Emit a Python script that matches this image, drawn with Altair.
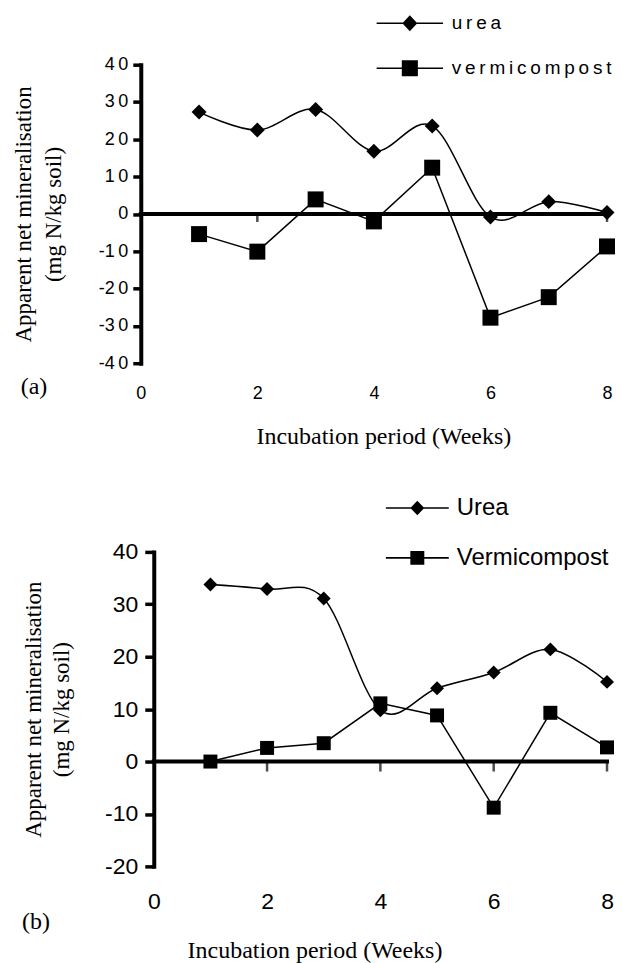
import altair as alt
import pandas as pd

# ---------------- data ----------------
weeks = [1, 2, 3, 4, 5, 6, 7, 8]
urea_a = [27.3, 22.5, 28.0, 16.8, 23.6, -0.8, 3.3, 0.4]
verm_a = [-5.4, -10.1, 3.9, -2.0, 12.4, -27.8, -22.3, -8.7]
urea_b = [33.8, 32.9, 31.1, 9.8, 14.0, 17.0, 21.4, 15.2]
verm_b = [0.0, 2.6, 3.5, 11.1, 8.8, -8.8, 9.3, 2.7]

names_a = ["urea", "vermicompost"]
names_b = ["Urea", "Vermicompost"]
x_ticks = [0, 2, 4, 6, 8]
y_ticks_a = [-40, -30, -20, -10, 0, 10, 20, 30, 40]
y_ticks_b = [-20, -10, 0, 10, 20, 30, 40]
x_title = "Incubation period (Weeks)"
y_title = ["Apparent net mineralisation", "(mg N/kg soil)"]
tags = ["(a)", "(b)"]

SANS = "Liberation Sans"
SERIF = "Liberation Serif"
THIN = "\u2009"

# legend symbols: a thin filled bar (the line) + the filled marker
LEG_A = ["M-4.75,-0.11H4.75V0.11H-4.75ZM-1.07,0L0,-1.15L1.07,0L0,1.15Z",
         "M-4.75,-0.11H4.75V0.11H-4.75ZM-1.15,-1.15H1.15V1.15H-1.15Z"]
LEG_B = ["M-4.5,-0.11H4.5V0.11H-4.5ZM-1,0L0,-1.05L1,0L0,1.05Z",
         "M-4.5,-0.11H4.5V0.11H-4.5ZM-1,-1H1V1H-1Z"]


def panel(urea, verm, names, y_ticks, tag, p):
    xs = alt.Scale(domain=[p["x_start"], x_ticks[-1]], nice=False, zero=False)
    ys = alt.Scale(domain=[y_ticks[0], y_ticks[-1]], nice=False, zero=False)
    x_axis = alt.Axis(
        values=x_ticks, title=x_title, grid=False, domain=False, ticks=False,
        tickSize=0, labelFont=SANS, labelFontSize=p["tick_size"],
        labelPadding=p["xlab_pad"], labelFlush=False, labelOverlap=False,
        labelColor="black", labelExpr="'' + datum.value",
        titleFont=SERIF, titleFontSize=24, titleFontWeight="normal",
        titleColor="black", titleX=p["xtitle_x"], titleY=p["xtitle_y"],
        titleBaseline="middle", titleAlign="center",
    )
    y_axis = alt.Axis(
        values=y_ticks, title=y_title, grid=False, domainColor="black",
        domainWidth=4, domainCap="square", tickColor="black", tickWidth=3.5,
        tickSize=p["tick_len"], labelPadding=p["ylab_pad"],
        labelFont=SANS, labelFontSize=p["tick_size"],
        labelColor="black", labelOverlap=False, labelExpr=p["ylab_expr"],
        titleFont=SERIF, titleFontSize=23, titleFontWeight="normal",
        titleColor="black", titleAngle=270, titleBaseline="top",
        titleAlign="center", titleX=p["ytitle_x"], titleLineHeight=p["t_lh"],
        offset=p["y_offset"],
    )

    def X(f):
        return alt.X(f"{f}:Q", scale=xs, axis=x_axis)

    def Y(f):
        return alt.Y(f"{f}:Q", scale=ys, axis=y_axis)

    urea_df = pd.DataFrame({"week": weeks, "value": urea, "series": names[0]})
    verm_df = pd.DataFrame({"week": weeks, "value": verm, "series": names[1]})
    first_df = pd.concat([urea_df.head(1), verm_df.head(1)], ignore_index=True)
    zero_df = pd.DataFrame({"week": [x_ticks[0]], "week_end": [x_ticks[-1]], "value": [0]})
    tick_df = pd.DataFrame({"week": x_ticks[1:], "value": [0] * (len(x_ticks) - 1)})

    zero = alt.Chart(zero_df).mark_rule(
        color="black", strokeWidth=4, strokeCap="square"
    ).encode(x=X("week"), x2=alt.X2("week_end:Q"), y=Y("value"))

    zticks = alt.Chart(tick_df).mark_tick(
        orient="vertical", color="black", size=p["zt_size"], thickness=2.5,
        yOffset=p["zt_size"] / 2,
    ).encode(x=X("week"), y=Y("value"))

    urea_line = alt.Chart(urea_df).mark_line(
        color="black", strokeWidth=1.5, interpolate="cardinal", tension=0
    ).encode(x=X("week"), y=Y("value"))

    verm_line = alt.Chart(verm_df).mark_line(
        color="black", strokeWidth=1.5
    ).encode(x=X("week"), y=Y("value"))

    urea_pts = alt.Chart(urea_df).mark_point(
        shape="diamond", filled=True, opacity=1, fill="black", size=p["dia_size"]
    ).encode(x=X("week"), y=Y("value"))

    verm_pts = alt.Chart(verm_df).mark_point(
        shape="square", filled=True, opacity=1, fill="black", size=p["sq_size"]
    ).encode(x=X("week"), y=Y("value"))

    legend = alt.Legend(
        title=None, orient="none", legendX=p["leg_x"], legendY=p["leg_y"],
        direction="vertical", padding=0, rowPadding=p["leg_row"],
        labelOffset=p["leg_lab_off"], labelFont=SANS, labelAlign="left",
        labelFontSize=p["leg_size"], labelColor="black", labelLimit=500,
        labelExpr=p["leg_expr"], symbolSize=196, symbolStrokeWidth=0,
        symbolFillColor="black", symbolStrokeColor="black", symbolOpacity=1,
    )

    # invisible proxy marks (first week of each series) that only carry the legend
    legend_proxy = alt.Chart(first_df).mark_point(
        filled=True, opacity=0, fill="black", size=196,
    ).encode(
        x=X("week"), y=Y("value"),
        shape=alt.Shape("series:N", scale=alt.Scale(domain=names, range=p["leg_paths"]),
                        legend=legend),
    )

    tag_text = alt.Chart(pd.DataFrame({"tag": [tag]})).mark_text(
        font=SERIF, fontSize=24, color="black", align="center", baseline="middle"
    ).encode(text="tag:N", x=alt.value(p["tag_x"]), y=alt.value(p["tag_y"]))

    return alt.layer(
        zero, zticks, urea_line, verm_line, urea_pts, verm_pts, legend_proxy, tag_text
    ).properties(width=467, height=p["height"])


pa = dict(
    x_start=0, height=299, tick_size=18, xlab_pad=21,
    xtitle_x=243, xtitle_y=73, tick_len=8, ylab_pad=5, t_lh=30,
    ylab_expr=f"replace('' + datum.value, regexp('([0-9])(?=[0-9])', 'g'), '$1{THIN}')",
    ytitle_x=-128, y_offset=0, zt_size=8, leg_x=260, leg_y=-51, leg_row=25,
    leg_lab_off=32.5, leg_size=19,
    leg_expr=f"replace(datum.label, regexp('(.)(?=.)', 'g'), '$1{THIN}')",
    leg_paths=LEG_A, dia_size=225, sq_size=256, tag_x=-107, tag_y=323,
)
pb = dict(
    x_start=-13 / 56.75, height=315, tick_size=23, xlab_pad=24,
    xtitle_x=174, xtitle_y=84, tick_len=9, ylab_pad=7, t_lh=28,
    ylab_expr="'' + datum.value",
    ytitle_x=-131, y_offset=-13, zt_size=10, leg_x=265, leg_y=-56, leg_row=26,
    leg_lab_off=27.5, leg_size=24,
    leg_expr="datum.label",
    leg_paths=LEG_B, dia_size=196, sq_size=196, tag_x=-105, tag_y=371,
)

chart_a = panel(urea_a, verm_a, names_a, y_ticks_a, tags[0], pa)
chart_b = panel(urea_b, verm_b, names_b, y_ticks_b, tags[1], pb)

chart = alt.vconcat(chart_a, chart_b, spacing=189, bounds="flush").resolve_scale(
    shape="independent"
).resolve_legend(shape="independent").properties(
    padding={"left": 5, "top": 5, "right": 0, "bottom": 0}
).configure_view(stroke=None)

chart.save("out.html", embed_options={"renderer": "svg", "actions": False})
